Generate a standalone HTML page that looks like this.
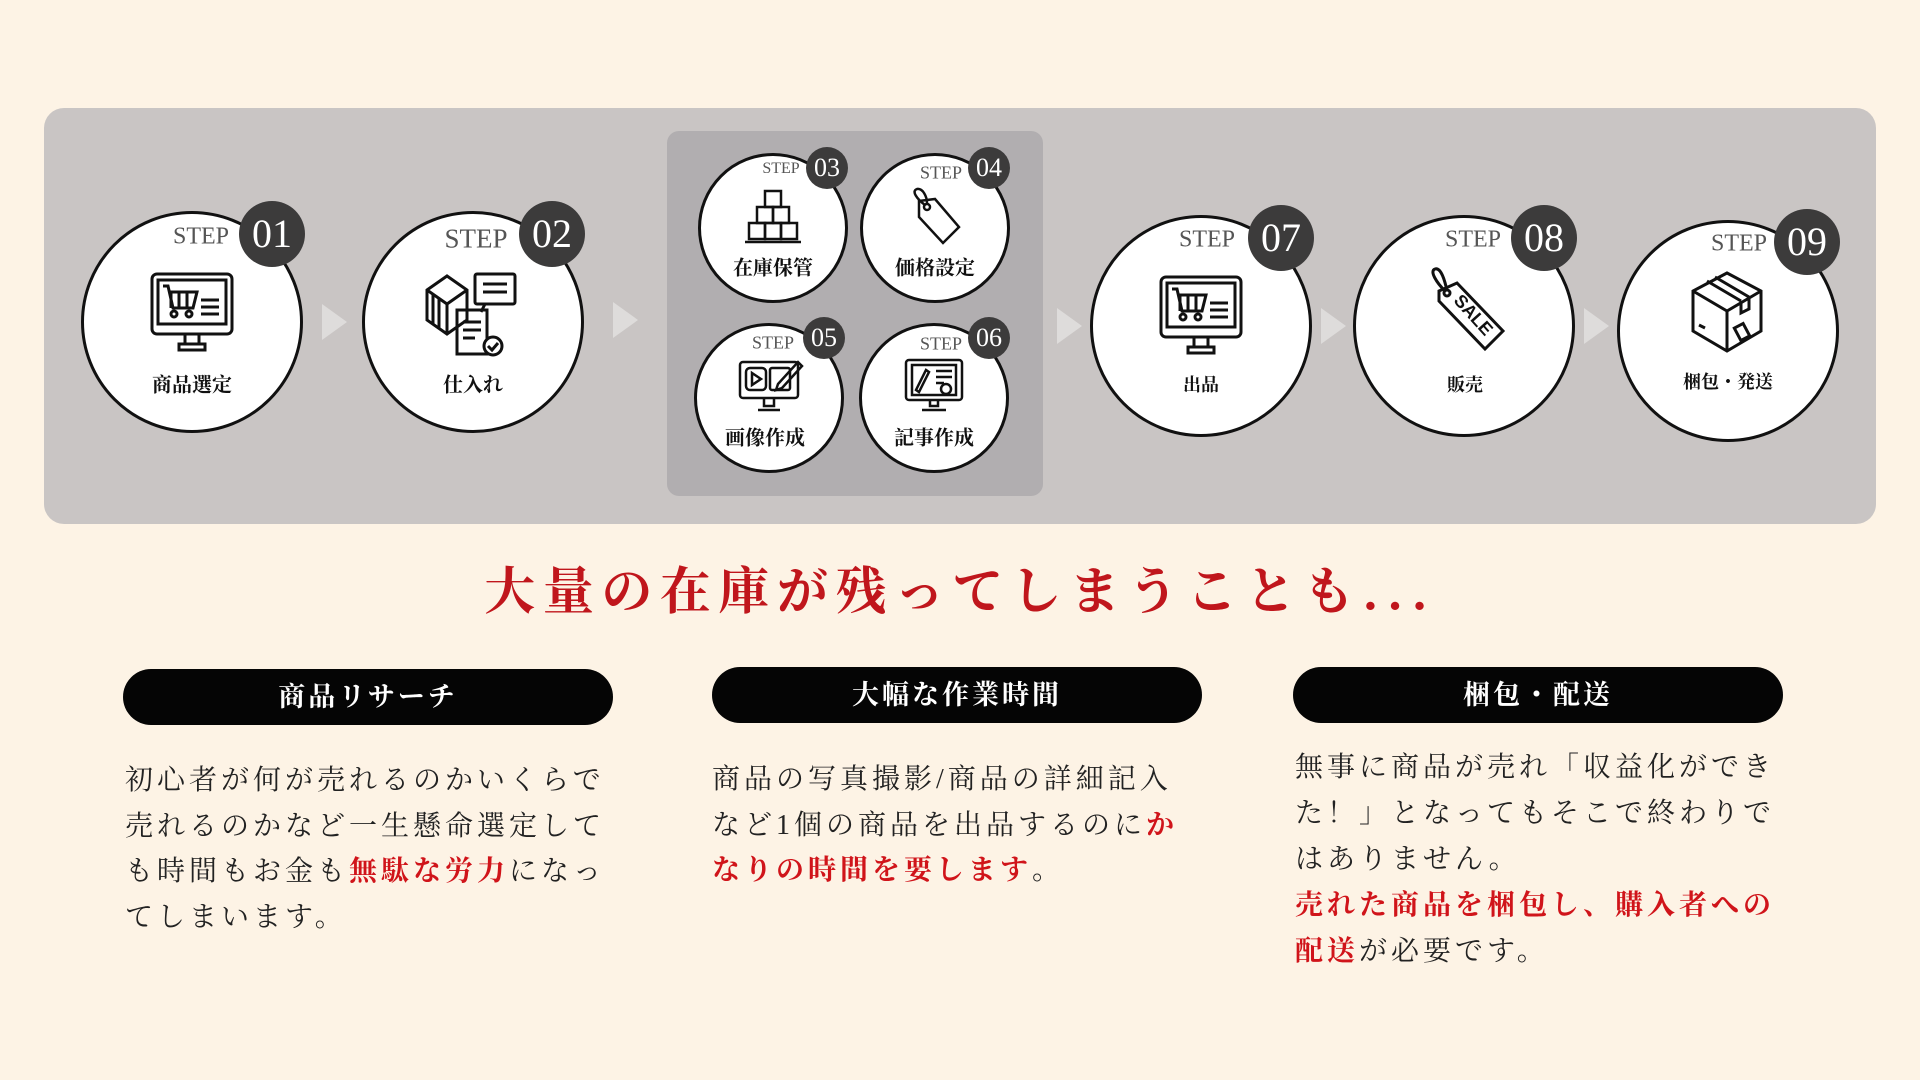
<!DOCTYPE html>
<html><head><meta charset="utf-8"><style>
*{margin:0;padding:0;box-sizing:border-box}
body{width:1920px;height:1080px;background:#fdf3e5;position:relative;overflow:hidden;font-family:"Liberation Serif","Noto Serif CJK SC",serif}
.abs{position:absolute}
.panel{left:44px;top:108px;width:1832px;height:416px;background:#c9c5c4;border-radius:20px}
.inner{left:667px;top:131px;width:376px;height:365px;background:#b1aeb0;border-radius:12px}
.c{position:absolute;border-radius:50%;background:#fff;border:3px solid #111}
.badge{position:absolute;border-radius:50%;background:#3c3b3b;color:#fff;text-align:center;font-family:"Liberation Serif",serif}
.step{position:absolute;color:#555;font-family:"Liberation Serif",serif;transform:translate(-50%,-50%)}
.lab{position:absolute;font-weight:bold;color:#111;transform:translate(-50%,-50%);white-space:nowrap}
.ic{position:absolute;transform:translate(-50%,-50%)}
.arr{position:absolute;width:0;height:0;border-top:18px solid transparent;border-bottom:18px solid transparent;border-left:25px solid #dedcdb}
.pill{position:absolute;height:56px;background:#050505;border-radius:28px;color:#fff;font-size:27px;font-weight:bold;text-align:center;line-height:56px;letter-spacing:3px}
.txt{position:absolute;font-size:28px;line-height:45.5px;color:#222;white-space:nowrap;letter-spacing:4px}
.r{color:#d0141a;font-weight:bold}
</style></head><body>
<div class="abs panel"></div>
<div class="abs inner"></div>

<div class="arr" style="left:322px;top:304px"></div>
<div class="arr" style="left:613px;top:302px"></div>
<div class="arr" style="left:1057px;top:308px"></div>
<div class="arr" style="left:1321px;top:308px"></div>
<div class="arr" style="left:1584px;top:308px"></div>

<div class="c" style="left:81px;top:211px;width:222px;height:222px"></div>
<div class="c" style="left:362px;top:211px;width:222px;height:222px"></div>
<div class="c" style="left:1090px;top:215px;width:222px;height:222px"></div>
<div class="c" style="left:1353px;top:215px;width:222px;height:222px"></div>
<div class="c" style="left:1617px;top:220px;width:222px;height:222px"></div>
<div class="c" style="left:698px;top:153px;width:150px;height:150px"></div>
<div class="c" style="left:860px;top:153px;width:150px;height:150px"></div>
<div class="c" style="left:694px;top:323px;width:150px;height:150px"></div>
<div class="c" style="left:859px;top:323px;width:150px;height:150px"></div>

<div class="badge" style="left:239px;top:201px;width:66px;height:66px;font-size:40px;line-height:66px">01</div>
<div class="badge" style="left:519px;top:201px;width:66px;height:66px;font-size:40px;line-height:66px">02</div>
<div class="badge" style="left:1248px;top:205px;width:66px;height:66px;font-size:40px;line-height:66px">07</div>
<div class="badge" style="left:1511px;top:205px;width:66px;height:66px;font-size:40px;line-height:66px">08</div>
<div class="badge" style="left:1774px;top:209px;width:66px;height:66px;font-size:40px;line-height:66px">09</div>
<div class="badge" style="left:806px;top:147px;width:42px;height:42px;font-size:26px;line-height:42px">03</div>
<div class="badge" style="left:968px;top:147px;width:42px;height:42px;font-size:26px;line-height:42px">04</div>
<div class="badge" style="left:803px;top:317px;width:42px;height:42px;font-size:26px;line-height:42px">05</div>
<div class="badge" style="left:968px;top:317px;width:42px;height:42px;font-size:26px;line-height:42px">06</div>

<div class="step" style="left:201px;top:237px;font-size:24px">STEP</div>
<div class="step" style="left:476px;top:239px;font-size:27px">STEP</div>
<div class="step" style="left:1207px;top:240px;font-size:24px">STEP</div>
<div class="step" style="left:1473px;top:240px;font-size:24px">STEP</div>
<div class="step" style="left:1739px;top:244px;font-size:24px">STEP</div>
<div class="step" style="left:781px;top:169px;font-size:16px">STEP</div>
<div class="step" style="left:941px;top:173px;font-size:18px">STEP</div>
<div class="step" style="left:773px;top:343px;font-size:18px">STEP</div>
<div class="step" style="left:941px;top:344px;font-size:18px">STEP</div>

<div class="lab" style="left:192px;top:383px;font-size:20px">商品選定</div>
<div class="lab" style="left:473px;top:383px;font-size:20px">仕入れ</div>
<div class="lab" style="left:1201px;top:384px;font-size:18px">出品</div>
<div class="lab" style="left:1465px;top:384px;font-size:18px">販売</div>
<div class="lab" style="left:1728px;top:381px;font-size:18px">梱包・発送</div>
<div class="lab" style="left:773px;top:266px;font-size:20px">在庫保管</div>
<div class="lab" style="left:935px;top:266px;font-size:20px">価格設定</div>
<div class="lab" style="left:765px;top:436px;font-size:20px">画像作成</div>
<div class="lab" style="left:934px;top:436px;font-size:20px">記事作成</div>

<svg class="ic" style="left:192px;top:315px" width="86" height="86" viewBox="0 0 86 86" fill="none" stroke="#111" stroke-width="3">
<rect x="3" y="2" width="80" height="60" rx="5"/><rect x="9" y="8" width="68" height="44"/><path d="M36 62v10h14v-10M30 78h26v-6h-26z"/>
<path d="M14 14h5l5 22h20l4-16h-27M22 20v16M30 20v16M38 20v16"/><circle cx="25" cy="42" r="3"/><circle cx="40" cy="42" r="3"/><path d="M52 28h18M52 35h18M52 42h18"/></svg>
<svg class="ic" style="left:471px;top:315px" width="96" height="90" viewBox="0 0 96 90" fill="none" stroke="#111" stroke-width="3">
<path d="M4 20l20-14 20 14v30l-20 14-20-14z M24 34v30 M4 20l20 14 20-14 M10 24v30 M16 28v30"/><rect x="52" y="4" width="40" height="30" rx="2"/><path d="M60 14h24M60 22h24 M62 34l-4 8"/><path d="M34 40h30v44h-30z M40 52h18M40 60h18M40 68h12"/><circle cx="70" cy="76" r="9" fill="#fff"/><path d="M65 76l4 4 6-7"/></svg>
<svg class="ic" style="left:773px;top:218px" width="56" height="58" viewBox="0 0 56 58" fill="none" stroke="#111" stroke-width="2.5">
<rect x="20" y="2" width="16" height="16"/><rect x="12" y="18" width="16" height="16"/><rect x="28" y="18" width="16" height="16"/><rect x="4" y="34" width="16" height="16"/><rect x="20" y="34" width="16" height="16"/><rect x="36" y="34" width="16" height="16"/><path d="M0 53h56"/></svg>
<svg class="ic" style="left:935px;top:216px" width="56" height="58" viewBox="0 0 56 58" fill="none" stroke="#111" stroke-width="2.5">
<path d="M12 14l16-2 24 28-16 16-24-26z"/><circle cx="20" cy="20" r="3"/><path d="M18 18c-8-6-14-14-8-16 6-1 10 8 10 14"/></svg>
<svg class="ic" style="left:771px;top:386px" width="66" height="56" viewBox="0 0 66 56" fill="none" stroke="#111" stroke-width="2.5">
<rect x="2" y="4" width="58" height="36" rx="3"/><rect x="8" y="10" width="20" height="22" rx="4"/><path d="M14 15l9 6-9 6z"/><rect x="32" y="10" width="20" height="22" rx="2"/><path d="M40 26l20-22 4 4-20 22-6 2z"/><path d="M26 40v8h10v-8M20 52h22"/></svg>
<svg class="ic" style="left:934px;top:386px" width="60" height="56" viewBox="0 0 60 56" fill="none" stroke="#111" stroke-width="2.5">
<rect x="2" y="2" width="56" height="40" rx="3"/><rect x="8" y="7" width="44" height="30"/><path d="M12 32l10-20 3 2-10 20z M32 13h16M32 19h16M32 25h8"/><circle cx="42" cy="31" r="5"/><path d="M26 42v6h8v-6M18 52h24"/></svg>
<svg class="ic" style="left:1201px;top:318px" width="86" height="86" viewBox="0 0 86 86" fill="none" stroke="#111" stroke-width="3">
<rect x="3" y="2" width="80" height="60" rx="5"/><rect x="9" y="8" width="68" height="44"/><path d="M36 62v10h14v-10M30 78h26v-6h-26z"/>
<path d="M14 14h5l5 22h20l4-16h-27M22 20v16M30 20v16M38 20v16"/><circle cx="25" cy="42" r="3"/><circle cx="40" cy="42" r="3"/><path d="M52 28h18M52 35h18M52 42h18"/></svg>
<svg class="ic" style="left:1464px;top:310px" width="90" height="90" viewBox="0 0 90 90" fill="none" stroke="#111" stroke-width="3">
<path d="M20 26l18-8 46 48-18 18-46-48z"/><circle cx="28" cy="28" r="3"/><path d="M26 26c-8-8-16-20-10-22 6-2 10 12 12 22"/>
<text x="50" y="54" font-family="Liberation Sans,sans-serif" font-size="18" font-weight="bold" fill="#111" stroke="none" transform="rotate(48 50 54)" text-anchor="middle">SALE</text></svg>
<svg class="ic" style="left:1727px;top:312px" width="80" height="86" viewBox="0 0 80 86" fill="none" stroke="#111" stroke-width="3">
<path d="M40 4l34 18v40l-34 20-34-20v-40z M6 22l34 20 34-20 M40 42v40 M20 12l34 20 M28 8l34 20 M54 32v12l8-4v-12"/><rect x="50" y="56" width="10" height="14" transform="rotate(-28 55 63)"/><path d="M12 56l6 3"/></svg>

<div class="abs" style="left:0;width:1920px;top:550px;text-align:center;font-size:51px;font-weight:bold;color:#c0161c;letter-spacing:7.5px;font-family:'Noto Serif CJK SC',serif">大量の在庫が残ってしまうことも...</div>

<div class="pill" style="left:123px;top:669px;width:490px">商品リサーチ</div>
<div class="pill" style="left:712px;top:667px;width:490px">大幅な作業時間</div>
<div class="pill" style="left:1293px;top:667px;width:490px">梱包・配送</div>

<div class="txt" style="left:125px;top:758px">初心者が何が売れるのかいくらで<br>売れるのかなど一生懸命選定して<br>も時間もお金も<span class="r">無駄な労力</span>になっ<br>てしまいます。</div>
<div class="txt" style="left:712px;top:757px">商品の写真撮影/商品の詳細記入<br>など1個の商品を出品するのに<span class="r">か</span><br><span class="r">なりの時間を要します</span>。</div>
<div class="txt" style="left:1295px;top:745px;line-height:46px">無事に商品が売れ「収益化ができ<br>た！」となってもそこで終わりで<br>はありません。<br><span class="r">売れた商品を梱包し、購入者への</span><br><span class="r">配送</span>が必要です。</div>
</body></html>
